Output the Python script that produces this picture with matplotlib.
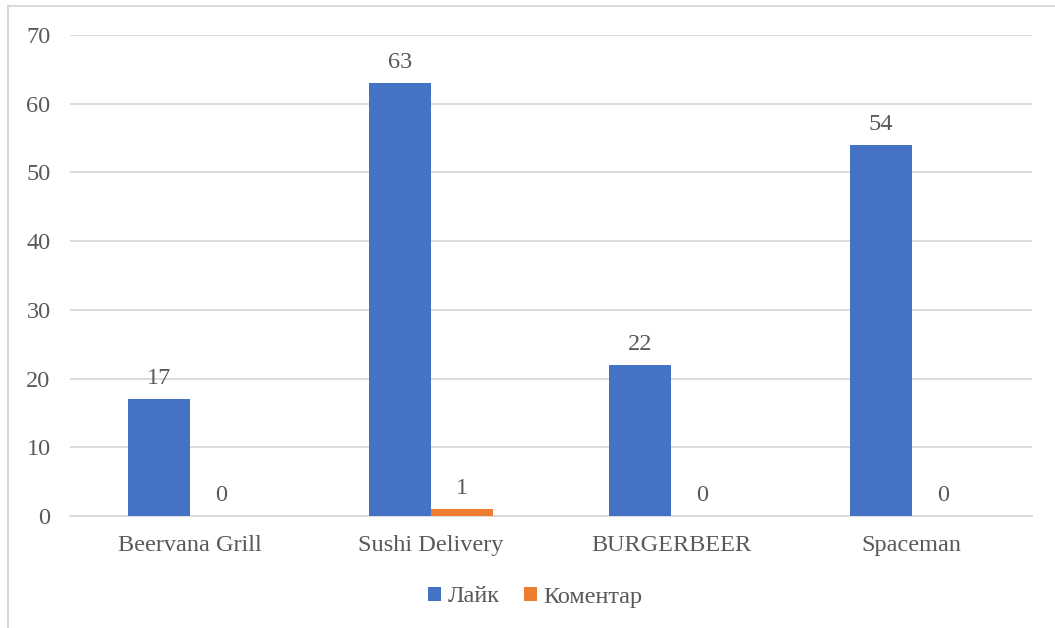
import matplotlib
matplotlib.use("Agg")
import matplotlib.pyplot as plt
from matplotlib.lines import Line2D
import numpy as np

categories = ["Beervana Grill", "Sushi Delivery", "BURGERBEER", "Spaceman"]
likes = [17, 63, 22, 54]
comments = [0, 1, 0, 0]
series_names = ["Лайк", "Коментар"]
colors = ["#4472C4", "#ED7D31"]
yticks = [0, 10, 20, 30, 40, 50, 60, 70]

plt.rcParams['font.family'] = ['Liberation Serif', 'DejaVu Serif']
text_color = "#595959"
grid_color = "#D9D9D9"
fs = 17.5

fig = plt.figure(figsize=(10.55, 6.28), dpi=100)
W, H = 1055, 628
ax = fig.add_axes([70 / W, 1 - 516 / H, (1032 - 70) / W, (516 - 35) / H])

x = np.arange(len(categories))
bw = 0.258
b1 = ax.bar(x - bw / 2, likes, bw, color=colors[0], label=series_names[0], zorder=3)
b2 = ax.bar(x + bw / 2, comments, bw, color=colors[1], label=series_names[1], zorder=3)

for bars, vals in ((b1, likes), (b2, comments)):
    for r, v in zip(bars, vals):
        ax.annotate(str(v), (r.get_x() + r.get_width() / 2, r.get_height()),
                    xytext=(0, 7), textcoords="offset points", ha="center", va="bottom",
                    fontsize=fs, color=text_color)

ax.set_xlim(-0.5, len(categories) - 0.5)
ax.set_ylim(0, 70)
ax.set_yticks(yticks)
ax.set_xticks(x)
ax.set_xticklabels(categories)
ax.tick_params(axis="both", length=0, labelsize=fs, colors=text_color)
ax.tick_params(axis="x", pad=14)
ax.tick_params(axis="y", pad=14)
ax.grid(axis="y", color=grid_color, linewidth=1.3, zorder=0)
for s in ("top", "right", "left"):
    ax.spines[s].set_visible(False)
ax.spines["bottom"].set_color(grid_color)
ax.spines["bottom"].set_linewidth(1.3)

leg = fig.legend(handles=[b1, b2], labels=series_names, loc="center",
                 bbox_to_anchor=(535 / W, 1 - 597 / H), ncol=2, frameon=False,
                 fontsize=fs, handlelength=0.55, handleheight=0.55, handletextpad=0.25,
                 columnspacing=1.0)
for t in leg.get_texts():
    t.set_color(text_color)

fig.add_artist(Line2D([8 / W, 1], [1 - 6 / H, 1 - 6 / H], transform=fig.transFigure,
                      color=grid_color, linewidth=1.5))
fig.add_artist(Line2D([8 / W, 8 / W], [0, 1 - 6 / H], transform=fig.transFigure,
                      color=grid_color, linewidth=1.5))

fig.savefig("out.png", dpi=100, facecolor="white")
